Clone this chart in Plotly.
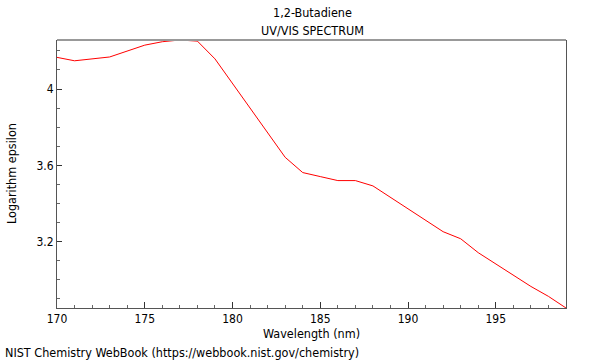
import plotly.graph_objects as go

wavelength = [170, 171, 173, 175, 176, 177, 178, 179, 183, 184, 185, 186, 187, 188, 192, 193, 194, 197, 198, 199]
log_eps = [4.166, 4.148, 4.168, 4.230, 4.248, 4.257, 4.251, 4.158, 3.642, 3.562, 3.541, 3.520, 3.520, 3.492, 3.252, 3.215, 3.142, 2.965, 2.913, 2.852]

title1 = "1,2-Butadiene"
title2 = "UV/VIS SPECTRUM"
x_title = "Wavelength (nm)"
y_title = "Logarithm epsilon"
caption = "NIST Chemistry WebBook (https://webbook.nist.gov/chemistry)"

W, H = 600, 360
L, R, T, B = 57, 34, 40, 52
pw, ph = W - L - R, H - T - B

def px(x):
    return (x - L) / pw

def py(y):
    return (H - B - y) / ph

FONT = "DejaVu Sans Condensed, DejaVu Sans, sans-serif"
FS = 12.5

fig = go.Figure()
fig.add_trace(go.Scatter(x=wavelength, y=log_eps, mode="lines",
                         line=dict(color="#ff0000", width=1), hoverinfo="skip"))

fig.update_layout(
    width=W, height=H,
    margin=dict(l=L, r=R, t=T, b=B),
    paper_bgcolor="white", plot_bgcolor="white",
    showlegend=False,
    font=dict(family=FONT, size=FS, color="black"),
    xaxis=dict(range=[170, 199], dtick=5, tick0=170, ticks="inside", ticklen=6,
               tickcolor="#333", showgrid=False, zeroline=False,
               showline=True, linecolor="#555", linewidth=1, mirror=False,
               minor=dict(dtick=1, ticks="inside", ticklen=3, tickcolor="#666"),
               tickfont=dict(size=12), ticklabelstandoff=0),
    yaxis=dict(range=[2.852, 4.257], dtick=0.4, tick0=0, ticks="inside", ticklen=5,
               tickcolor="#333", showgrid=False, zeroline=False,
               showline=True, linecolor="#555", linewidth=1, mirror=True,
               minor=dict(dtick=0.1, ticks="inside", ticklen=3, tickcolor="#666"),
               tickfont=dict(size=12)),
    shapes=[dict(type="line", xref="paper", yref="paper", x0=0, x1=1, y0=1, y1=1,
                 line=dict(color="#999999", width=2))],
)

ann = [
    (title1, 312, 13, "center"),
    (title2, 312, 30, "center"),
    (x_title, 311, 333, "center"),
    (caption, 3, 352, "left"),
]
for text, x, y, align in ann:
    fig.add_annotation(text=text, xref="paper", yref="paper", x=px(x), y=py(y),
                       xanchor=align, yanchor="middle", showarrow=False,
                       font=dict(family=FONT, size=FS, color="black"))
fig.add_annotation(text=y_title, xref="paper", yref="paper", x=px(11), y=py(174),
                   xanchor="center", yanchor="middle", textangle=-90, showarrow=False,
                   font=dict(family=FONT, size=FS, color="black"))

fig.write_html("out.html", config={"displayModeBar": False},
               post_script="document.body.style.margin='0';document.body.style.overflow='hidden';")
